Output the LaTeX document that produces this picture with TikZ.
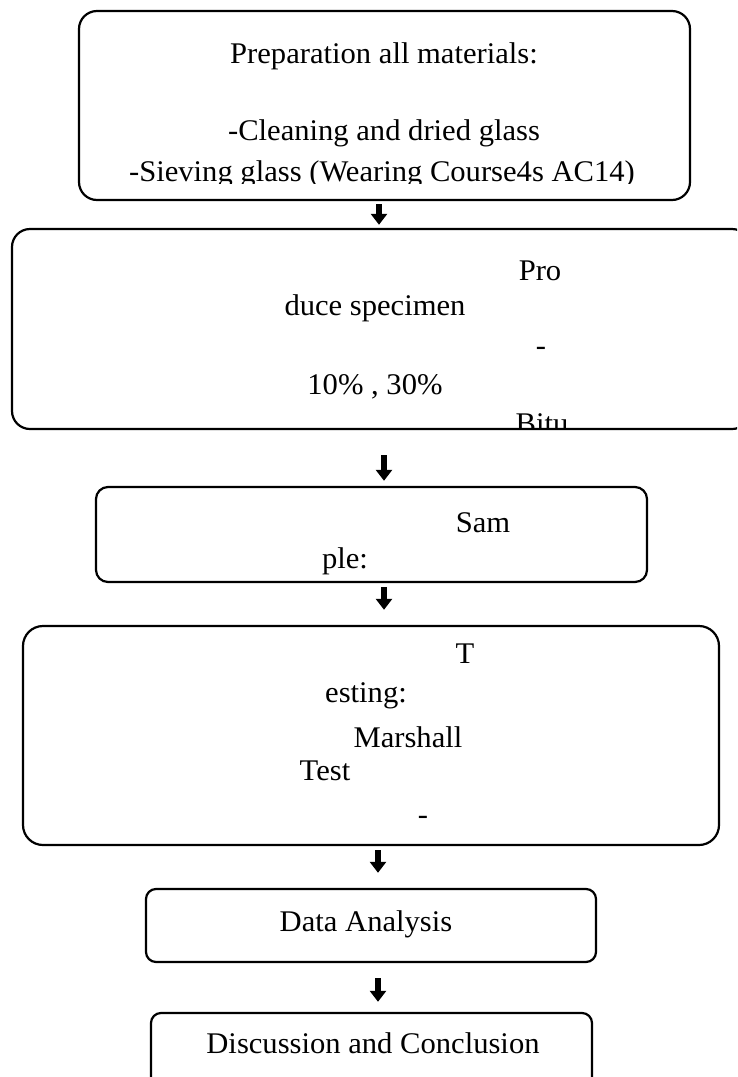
\documentclass[tikz,border=0pt]{standalone}
\usepackage{fontspec}
\usepackage{graphicx}
\setmainfont{Liberation Serif}
\usetikzlibrary{arrows.meta}
\newcommand\wtx[1]{\scalebox{1.02}[1]{#1}}
\tikzset{
  box/.style={draw, line width=2.2pt, rounded corners=#1},
  box/.default=18pt,
  txt/.style={anchor=base, inner sep=0pt, font=\fontsize{30}{36}\selectfont},
  arr/.style={line width=6pt, -{Triangle[width=16pt,length=11pt]}}
}
\begin{document}
\begin{tikzpicture}[x=1pt,y=-1pt]
\useasboundingbox (0,0) rectangle (737,1077);
\clip (0,0) rectangle (737,1077);
% boxes
\draw[box] (79,11) rectangle (690,200);
\node[inner sep=0pt, minimum width=611pt, minimum height=189pt] (b1) at (384.5,105.5) {};
\draw[box] (12,229) rectangle (750,429);
\node[inner sep=0pt, minimum width=738pt, minimum height=200pt] (b2) at (381,329) {};
\draw[box=12pt] (96,487) rectangle (647,582);
\node[inner sep=0pt, minimum width=551pt, minimum height=95pt] (b3) at (371.5,534.5) {};
\draw[box=20pt] (23,626) rectangle (719,845);
\node[inner sep=0pt, minimum width=696pt, minimum height=219pt] (b4) at (371,735.5) {};
\draw[box=10pt] (146,889) rectangle (596,962);
\node[inner sep=0pt, minimum width=450pt, minimum height=73pt] (b5) at (371,925.5) {};
\draw[box=10pt] (151,1013) rectangle (592,1120);
\node[inner sep=0pt, minimum width=441pt, minimum height=107pt] (b6) at (371.5,1066.5) {};
% texts
\node[txt] (t1a) at (384,63) {\wtx{Preparation all materials:}};
\node[txt] (t1b) at (384,140) {\wtx{-Cleaning and dried glass}};
\begin{scope}
\clip (0,0) rectangle (737,183);
\node[txt] (t1c) at (382,181) {\wtx{-Sieving glass (Wearing Course4s AC14)}};
\end{scope}
\node[txt] (t2a) at (540,280) {\wtx{Pro}};
\node[txt] (t2b) at (375,315) {\wtx{duce specimen}};
\node[txt] (t2c) at (541,355) {\wtx{-}};
\node[txt] (t2d) at (375,394) {\wtx{10\% , 30\%}};
\begin{scope}
\clip (0,0) rectangle (737,428);
\node[txt] (t2e) at (542,433) {\wtx{Bitu}};
\end{scope}
\node[txt] (t3a) at (483,532) {\wtx{Sam}};
\node[txt] (t3b) at (345,568) {\wtx{ple:}};
\node[txt] (t4a) at (465,663) {\wtx{T}};
\node[txt] (t4b) at (366,702) {\wtx{esting:}};
\node[txt] (t4c) at (408,747) {\wtx{Marshall}};
\node[txt] (t4d) at (325,780) {\wtx{Test}};
\node[txt] (t4e) at (423,824) {\wtx{-}};
\node[txt] (t5) at (366,931) {\wtx{Data Analysis}};
\node[txt] (t6) at (373,1053) {\wtx{Discussion and Conclusion}};
% arrows
\coordinate (ax1) at (379,0);
\coordinate (ax2) at (384,0);
\coordinate (ax3) at (384,0);
\coordinate (ax4) at (378,0);
\coordinate (ax5) at (378,0);
\draw[arr, shorten <=4pt, shorten >=4pt] (b1.south -| ax1) -- (b2.north -| ax1);
\draw[arr, shorten <=26pt, shorten >=6pt] (b2.south -| ax2) -- (b3.north -| ax2);
\draw[arr, shorten <=5pt, shorten >=16pt] (b3.south -| ax3) -- (b4.north -| ax3);
\draw[arr, shorten <=5pt, shorten >=16pt] (b4.south -| ax4) -- (b5.north -| ax4);
\draw[arr, shorten <=16pt, shorten >=11pt] (b5.south -| ax5) -- (b6.north -| ax5);
\end{tikzpicture}
\end{document}
